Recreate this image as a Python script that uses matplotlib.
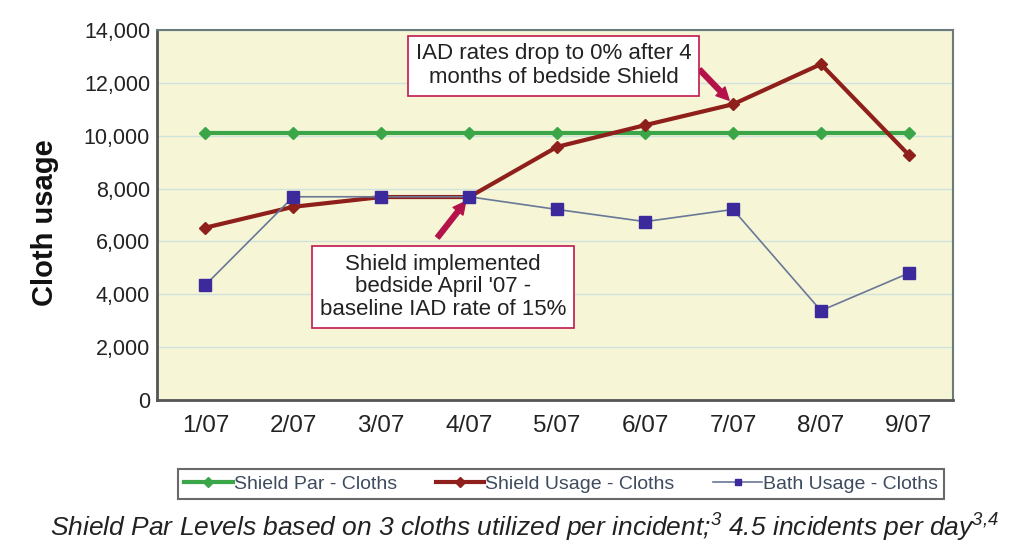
import numpy as np
import matplotlib
matplotlib.use('Agg')
import matplotlib.pyplot as plt

# data
months = ['1/07', '2/07', '3/07', '4/07', '5/07', '6/07', '7/07', '8/07', '9/07']
shield_par = [10100, 10100, 10100, 10100, 10100, 10100, 10100, 10100, 10100]
shield_usage = [6520, 7310, 7680, 7680, 9580, 10400, 11190, 12710, 9270]
bath_usage = [4350, 7690, 7690, 7690, 7210, 6750, 7210, 3380, 4800]

plt.rcParams['font.family'] = ['Liberation Sans', 'DejaVu Sans']
plt.rcParams['mathtext.fontset'] = 'custom'
plt.rcParams['mathtext.rm'] = 'Liberation Sans:italic'
plt.rcParams['mathtext.it'] = 'Liberation Sans:italic'

fig = plt.figure(figsize=(10.18, 5.56), dpi=100)
ax = fig.add_axes([0.1542, 0.2806, 0.7818, 0.6654])
ax.set_facecolor('#f6f5d6')

x = np.arange(len(months))
ax.plot(x, shield_par, color='#3aa648', lw=3, marker='D', ms=6, label='Shield Par - Cloths', zorder=3)
ax.plot(x, shield_usage, color='#8e1f1a', lw=3, marker='D', ms=6, label='Shield Usage - Cloths', zorder=4)
ax.plot(x, bath_usage, color='#6a7898', lw=1.2, marker='s', ms=9,
        markerfacecolor='#3c2a9c', markeredgecolor='#3c2a9c', label='Bath Usage - Cloths', zorder=5)

ax.set_xlim(-0.55, 8.5)
ax.set_ylim(0, 14000)
ax.set_yticks(np.arange(0, 14001, 2000))
ax.set_yticklabels(['{:,}'.format(v) for v in range(0, 14001, 2000)], fontsize=15.5, color='#222222')
ax.set_xticks(x)
ax.set_xticklabels(months, fontsize=17.5, color='#222222')
ax.tick_params(axis='y', length=0, pad=5)
ax.tick_params(axis='x', length=0, pad=11)
ax.grid(axis='y', color='#cfe2dc', lw=1)
ax.set_axisbelow(True)
for side in ['left', 'bottom']:
    ax.spines[side].set_color('#555555')
    ax.spines[side].set_linewidth(2)
for side in ['top', 'right']:
    ax.spines[side].set_color('#6b7b7b')
    ax.spines[side].set_linewidth(1.5)

fig.text(0.044, 0.6, 'Cloth usage', rotation=90, fontsize=21, fontweight='bold',
         ha='center', va='center', color='#111111')

box = dict(boxstyle='square,pad=0.35', fc='white', ec='#c0184f', lw=1.2)
arrow = dict(arrowstyle='simple,head_width=0.9,head_length=0.9,tail_width=0.35',
             color='#b3134a', shrinkA=0, shrinkB=4)
ax.annotate('', xy=(6, shield_usage[6]), xytext=(5.62, 12500), arrowprops=arrow)
ax.text(3.96, 12650, 'IAD rates drop to 0% after 4\nmonths of bedside Shield', fontsize=16,
        ha='center', va='center', bbox=box, linespacing=1.15, zorder=6, color='#222222')
ax.annotate('', xy=(3, shield_usage[3]), xytext=(2.64, 6150), arrowprops=arrow)
ax.text(2.7, 4280, "Shield implemented\nbedside April '07 -\nbaseline IAD rate of 15%", fontsize=16,
        ha='center', va='center', bbox=box, linespacing=1.1, zorder=6, color='#222222')

leg = fig.legend(loc='center', bbox_to_anchor=(0.551, 0.1295), ncol=3,
                 prop={'size': 14}, labelcolor='#3d4b5e',
                 frameon=True, fancybox=False, edgecolor='#444444', handlelength=2.5,
                 columnspacing=2.0, borderpad=0.3, handletextpad=0.05, borderaxespad=0)
leg.get_frame().set_linewidth(1.5)
for h in leg.legend_handles:
    h.set_markersize(5)

fig.text(0.515, 0.05, r'Shield Par Levels based on 3 cloths utilized per incident;$^{3}$ 4.5 incidents per day$^{3{,}4}$',
         fontsize=19, style='italic', ha='center', va='center', color='#222222')

fig.savefig('out.png', dpi=100)
